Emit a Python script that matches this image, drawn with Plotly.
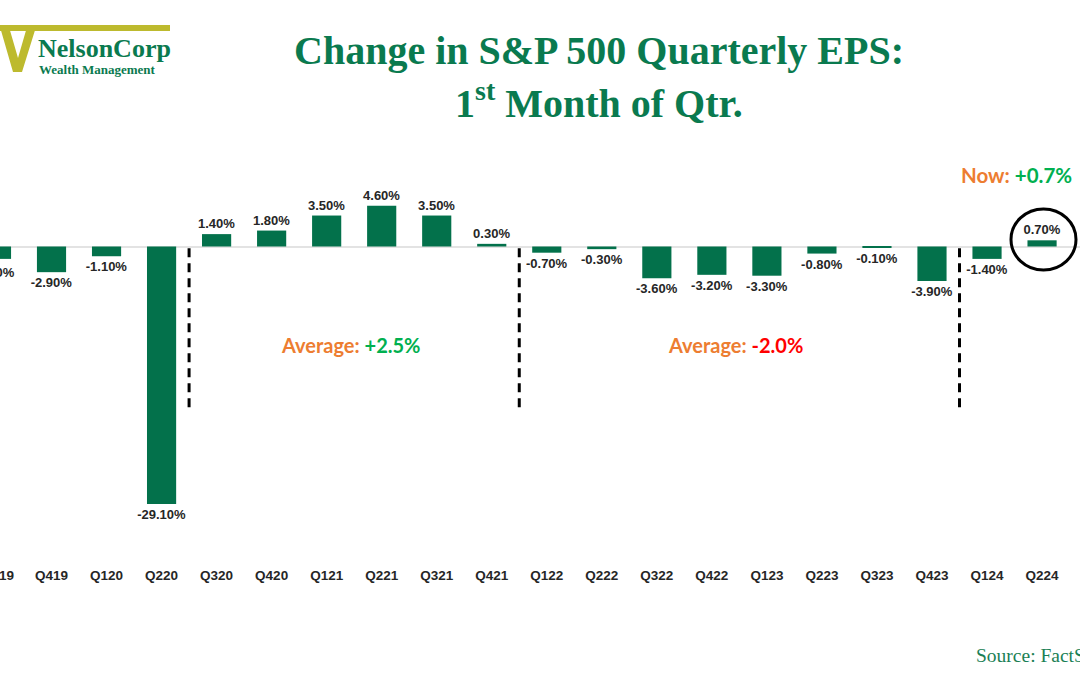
import plotly.graph_objects as go

quarters = ["Q319", "Q419", "Q120", "Q220", "Q320", "Q420", "Q121", "Q221", "Q321", "Q421",
            "Q122", "Q222", "Q322", "Q422", "Q123", "Q223", "Q323", "Q423", "Q124", "Q224"]
eps_change = [-1.4, -2.9, -1.1, -29.1, 1.4, 1.8, 3.5, 4.6, 3.5, 0.3,
              -0.7, -0.3, -3.6, -3.2, -3.3, -0.8, -0.1, -3.9, -1.4, 0.7]
divider_positions = [3.5, 9.5, 17.5]

W, H = 1080, 675
PLOT_BOTTOM = 560  # px from top
BAR_GREEN = "#03714B"
TITLE_GREEN = "#0A7A4F"
OLIVE = "#BDBA2E"
ORANGE = "#ED7D31"
BRIGHT_GREEN = "#00B050"
RED = "#FF0000"


def px(x):
    return x / W


def py(y):
    return (PLOT_BOTTOM - y) / PLOT_BOTTOM


labels = [f"{v:.2f}%" for v in eps_change]
label_font = dict(family="Liberation Sans, Arial", size=13, color="#262626", weight="bold")
tick_font = dict(family="Liberation Sans, Arial", size=13.5, color="#262626", weight="bold")

fig = go.Figure()
fig.add_trace(go.Bar(
    x=quarters,
    y=eps_change,
    marker=dict(color=BAR_GREEN, line=dict(width=0)),
    width=0.53,
    text=labels,
    textposition="outside",
    constraintext="none",
    cliponaxis=False,
    textfont=label_font,
    hoverinfo="skip",
))

shapes = []
for xpos in divider_positions:
    shapes.append(dict(type="line", xref="x", yref="y", x0=xpos, x1=xpos, y0=-0.2, y1=-18.2,
                       line=dict(color="black", width=3, dash="9px,6px")))

# circle around latest bar
shapes.append(dict(type="circle", xref="paper", yref="paper",
                   x0=px(1011), x1=px(1076), y0=py(270), y1=py(209),
                   line=dict(color="black", width=3)))

# logo: olive top bar and W
shapes.append(dict(type="rect", xref="paper", yref="paper",
                   x0=px(0), x1=px(170), y0=py(31), y1=py(25),
                   fillcolor=OLIVE, line=dict(width=0)))
v_pts = [(0, 27), (9, 27), (18, 58), (27, 27), (36, 27), (22, 72), (13, 72)]
path = "M " + " L ".join(f"{px(x)},{py(y)}" for x, y in v_pts) + " Z"
shapes.append(dict(type="path", xref="paper", yref="paper", path=path,
                   fillcolor=OLIVE, line=dict(width=0)))

annotations = [
    dict(text="<b>Change in S&P 500 Quarterly EPS:</b>", x=px(599), y=py(50),
         font=dict(family="Liberation Serif, Times New Roman", size=40, color=TITLE_GREEN)),
    dict(text="<b>1<sup>st</sup> Month of Qtr.</b>", x=px(599), y=py(100),
         font=dict(family="Liberation Serif, Times New Roman", size=40, color=TITLE_GREEN)),
    dict(text="<b>NelsonCorp</b>", x=px(36), y=py(48), xanchor="left",
         font=dict(family="Liberation Serif, Times New Roman", size=26, color=TITLE_GREEN)),
    dict(text="<b>Wealth Management</b>", x=px(37), y=py(69), xanchor="left",
         font=dict(family="Liberation Serif, Times New Roman", size=13, color=TITLE_GREEN)),
    dict(text=f"<b><span style='color:{ORANGE}'>Average: </span><span style='color:{BRIGHT_GREEN}'>+2.5%</span></b>",
         x=px(350), y=py(345),
         font=dict(family="Lato, Open Sans", size=20, color=ORANGE)),
    dict(text=f"<b><span style='color:{ORANGE}'>Average: </span><span style='color:{RED}'>-2.0%</span></b>",
         x=px(735), y=py(345),
         font=dict(family="Lato, Open Sans", size=20, color=ORANGE)),
    dict(text=f"<b><span style='color:{ORANGE}'>Now: </span><span style='color:{BRIGHT_GREEN}'>+0.7%</span></b>",
         x=px(1016), y=py(175),
         font=dict(family="Lato, Open Sans", size=20.5, color=ORANGE)),
    dict(text="Source: FactSet", x=px(974), y=py(655), xanchor="left",
         font=dict(family="Liberation Serif, Times New Roman", size=19.5, color="#1B7F55")),
    # label and category of the first, half-visible bar (cut at the left edge as in the reference)
    dict(text=labels[0], x=px(17), y=py(272), xanchor="right", font=label_font),
    dict(text=quarters[0], x=px(15.5), y=py(575), xanchor="right", font=tick_font),
]
for a in annotations:
    a.setdefault("xref", "paper")
    a.setdefault("yref", "paper")
    a.setdefault("showarrow", False)
    a.setdefault("xanchor", "center")
    a.setdefault("yanchor", "middle")

zero_px = 246.5
scale = 8.85
fig.update_layout(
    width=W, height=H,
    margin=dict(l=0, r=0, t=0, b=H - PLOT_BOTTOM),
    paper_bgcolor="white", plot_bgcolor="white",
    showlegend=False,
    shapes=shapes,
    annotations=annotations,
    bargap=0.47,
    xaxis=dict(
        type="category",
        range=[0.064, 0.064 + W / 55.03],
        showgrid=False, showline=False, zeroline=False,
        ticks="", ticklabelstandoff=5,
        tickfont=tick_font,
    ),
    yaxis=dict(
        range=[(zero_px - PLOT_BOTTOM) / scale, zero_px / scale],
        showgrid=False, showline=False, showticklabels=False,
        zeroline=True, zerolinecolor="#E3E3E3", zerolinewidth=1.5,
    ),
)

fig.write_html(
    "out.html",
    config={"displayModeBar": False},
    post_script="document.body.style.margin='0';document.body.style.overflow='hidden';",
)
